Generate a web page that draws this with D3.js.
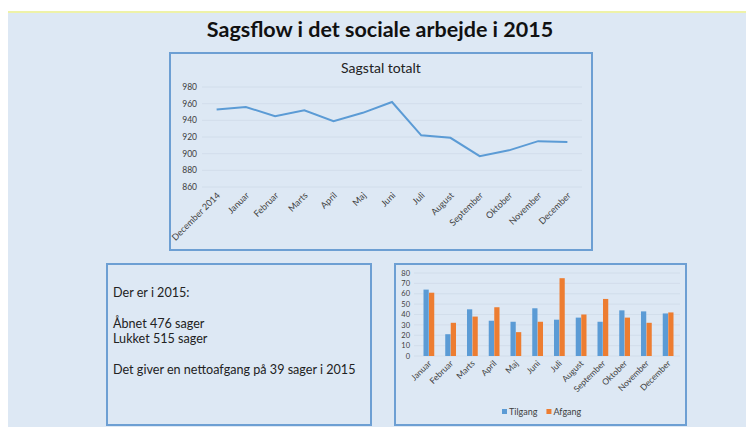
<!DOCTYPE html>
<html>
<head>
<meta charset="utf-8">
<script src="https://cdn.jsdelivr.net/npm/d3@7"></script>
<style>
  body { margin: 0; background: #fff; }
  text { font-family: Lato, "Open Sans", sans-serif; fill: #404040; }
</style>
</head>
<body>
<svg width="746" height="427"></svg>
<script>
// Sagstal totalt (line chart)
const lineMonths = ["December 2014", "Januar", "Februar", "Marts", "April", "Maj", "Juni",
  "Juli", "August", "September", "Oktober", "November", "December"];
const sagstal = [953, 956, 945, 952, 939, 949, 962, 922, 919, 897, 904, 915, 914];
const lineTicks = [860, 880, 900, 920, 940, 960, 980];

// Tilgang / Afgang (bar chart)
const barMonths = ["Januar", "Februar", "Marts", "April", "Maj", "Juni",
  "Juli", "August", "September", "Oktober", "November", "December"];
const tilgang = [64, 21, 45, 34, 33, 46, 35, 37, 33, 44, 43, 41];
const afgang = [61, 32, 38, 47, 23, 33, 75, 40, 55, 37, 32, 42];
const barTicks = [0, 10, 20, 30, 40, 50, 60, 70, 80];
const seriesNames = ["Tilgang", "Afgang"];

// Text box
const infoLines = ["Der er i 2015:", "", "Åbnet 476 sager", "Lukket 515 sager", "", "Det giver en nettoafgang på 39 sager i 2015"];

const blue = "#5b9bd5";
const orange = "#ed7d31";
const border = "#6d9fd3";
const bg = "#dde8f4";

const svg = d3.select("svg");

// page background
svg.append("rect").attr("x", 8).attr("y", 12).attr("width", 738).attr("height", 415).attr("fill", bg);
svg.append("rect").attr("x", 8).attr("y", 11).attr("width", 738).attr("height", 2).attr("fill", "#eef2a8");

svg.append("text")
  .attr("x", 380).attr("y", 37)
  .attr("text-anchor", "middle")
  .attr("font-size", "21.5px")
  .attr("font-weight", "bold")
  .style("fill", "#111")
  .text("Sagsflow i det sociale arbejde i 2015");

// ---- line chart ----
const lc = svg.append("g");
lc.append("rect").attr("x", 170).attr("y", 53).attr("width", 422).attr("height", 197)
  .attr("fill", bg).attr("stroke", border).attr("stroke-width", 2);

lc.append("text")
  .attr("x", 381).attr("y", 73)
  .attr("text-anchor", "middle")
  .attr("font-size", "14px")
  .style("fill", "#222")
  .text("Sagstal totalt");

const xl = d3.scalePoint().domain(lineMonths).range([202, 582]).padding(0.5);
const yl = d3.scaleLinear().domain([860, 980]).range([187, 87]);

lc.selectAll(".grid").data(lineTicks).enter().append("line")
  .attr("x1", 202).attr("x2", 582)
  .attr("y1", d => yl(d)).attr("y2", d => yl(d))
  .attr("stroke", "#cfdbe9").attr("stroke-width", 0.8);

lc.selectAll(".ylab").data(lineTicks).enter().append("text")
  .attr("x", 197).attr("y", d => yl(d) + 3)
  .attr("text-anchor", "end")
  .attr("font-size", "8.5px")
  .text(d => d);

lc.selectAll(".xlab").data(lineMonths).enter().append("text")
  .attr("transform", d => "translate(" + (xl(d) + 4) + ",196) rotate(-45)")
  .attr("text-anchor", "end")
  .attr("font-size", "9px")
  .text(d => d);

lc.append("path")
  .datum(sagstal)
  .attr("fill", "none")
  .attr("stroke", blue)
  .attr("stroke-width", 2)
  .attr("d", d3.line().x((d, i) => xl(lineMonths[i])).y(d => yl(d)));

// ---- text box ----
const tb = svg.append("g");
tb.append("rect").attr("x", 107).attr("y", 264).attr("width", 264).attr("height", 161)
  .attr("fill", bg).attr("stroke", border).attr("stroke-width", 2);

tb.selectAll("text").data(infoLines).enter().append("text")
  .attr("x", 113)
  .attr("y", (d, i) => 297 + i * 15.4)
  .attr("font-size", "12.6px")
  .style("fill", "#222")
  .text(d => d);

// ---- bar chart ----
const bc = svg.append("g");
bc.append("rect").attr("x", 395).attr("y", 264).attr("width", 291).attr("height", 161)
  .attr("fill", bg).attr("stroke", border).attr("stroke-width", 2);

const x0 = d3.scaleBand().domain(barMonths).range([418, 679]).paddingInner(0.48).paddingOuter(0.24);
const x1 = d3.scaleBand().domain(seriesNames).range([0, x0.bandwidth()]).padding(0.05);
const yb = d3.scaleLinear().domain([0, 80]).range([356, 273]);

bc.selectAll(".grid").data(barTicks).enter().append("line")
  .attr("x1", 414).attr("x2", 680)
  .attr("y1", d => yb(d)).attr("y2", d => yb(d))
  .attr("stroke", "#cfdbe9").attr("stroke-width", 0.8);

bc.selectAll(".ylab").data(barTicks).enter().append("text")
  .attr("x", 410).attr("y", d => yb(d) + 2.7)
  .attr("text-anchor", "end")
  .attr("font-size", "7.5px")
  .text(d => d);

const series = [tilgang, afgang];
const colors = [blue, orange];
series.forEach(function(vals, s) {
  bc.selectAll(".bar" + s).data(vals).enter().append("rect")
    .attr("x", (d, i) => x0(barMonths[i]) + x1(seriesNames[s]))
    .attr("width", x1.bandwidth())
    .attr("y", d => yb(d))
    .attr("height", d => yb(0) - yb(d))
    .attr("fill", colors[s]);
});

bc.selectAll(".xlab").data(barMonths).enter().append("text")
  .attr("transform", d => "translate(" + (x0(d) + x0.bandwidth() / 2 + 3) + ",364) rotate(-45)")
  .attr("text-anchor", "end")
  .attr("font-size", "8.5px")
  .text(d => d);

// legend
const lg = bc.append("g").attr("transform", "translate(502,409)");
let lx = 0;
seriesNames.forEach(function(name, i) {
  lg.append("rect").attr("x", lx).attr("y", 0).attr("width", 5).attr("height", 5).attr("fill", colors[i]);
  const t = lg.append("text").attr("x", lx + 7).attr("y", 6).attr("font-size", "9px").text(name);
  lx += 7 + t.node().getComputedTextLength() + 9;
});
</script>
</body>
</html>
